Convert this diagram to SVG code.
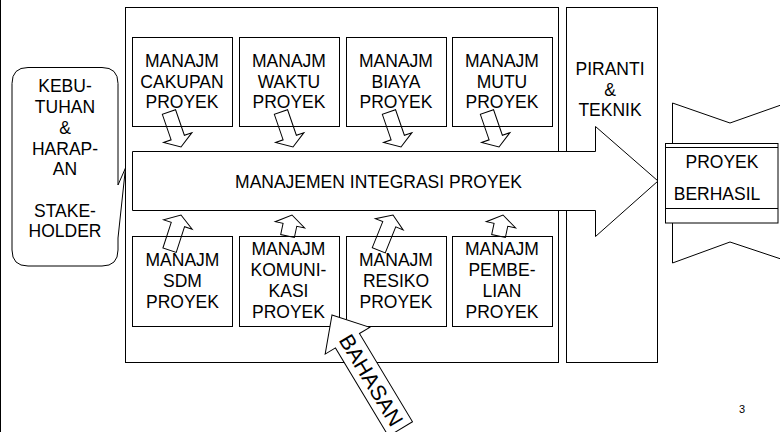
<svg xmlns="http://www.w3.org/2000/svg" width="780" height="432" viewBox="0 0 780 432">
<style>
.ln{fill:none;stroke:#000;stroke-width:1}
.bx{fill:#fff;stroke:#000;stroke-width:1}
.t{font-family:"Liberation Sans",Arial,sans-serif;font-size:17.5px;fill:#000;text-anchor:middle}
.ar{fill:none;stroke:#000;stroke-width:1;stroke-linejoin:miter}
.arw{fill:#fff;stroke:#000;stroke-width:1}
</style>
<rect width="780" height="432" fill="#fff"/>
<line class="ln" x1="0.5" y1="0" x2="0.5" y2="432"/>

<g id="frame-main"><rect class="bx" x="125.5" y="7.5" width="433" height="355"/></g>
<g id="piranti">
<rect class="bx" x="566.5" y="7.5" width="91" height="355"/>
<text class="t" x="610" y="75">PIRANTI</text>
<text class="t" x="610" y="96">&amp;</text>
<text class="t" x="610" y="116">TEKNIK</text>
</g>

<g id="kebutuhan">
<path class="bx" d="M28,67.5 H102 Q118,67.5 118,83.5 V185 L125.5,168 L118,238 V250 Q118,266 102,266 H28 Q12,266 12,250 V83.5 Q12,67.5 28,67.5 Z"/>
<text class="t" x="65" y="92">KEBU-</text>
<text class="t" x="65" y="113">TUHAN</text>
<text class="t" x="65" y="134">&amp;</text>
<text class="t" x="65" y="155">HARAP-</text>
<text class="t" x="65" y="175">AN</text>
<text class="t" x="65" y="217">STAKE-</text>
<text class="t" x="65" y="237">HOLDER</text>
</g>

<g id="cakupan"><rect class="bx" x="132.5" y="37.5" width="100" height="89"/>
<text class="t" x="182" y="67">MANAJM</text><text class="t" x="182" y="87.5">CAKUPAN</text><text class="t" x="182" y="108">PROYEK</text></g>
<g id="waktu"><rect class="bx" x="239.5" y="37.5" width="100" height="89"/>
<text class="t" x="289" y="67">MANAJM</text><text class="t" x="289" y="87.5">WAKTU</text><text class="t" x="289" y="108">PROYEK</text></g>
<g id="biaya"><rect class="bx" x="346.5" y="37.5" width="100" height="89"/>
<text class="t" x="396" y="67">MANAJM</text><text class="t" x="396" y="87.5">BIAYA</text><text class="t" x="396" y="108">PROYEK</text></g>
<g id="mutu"><rect class="bx" x="452.5" y="37.5" width="100" height="89"/>
<text class="t" x="502" y="67">MANAJM</text><text class="t" x="502" y="87.5">MUTU</text><text class="t" x="502" y="108">PROYEK</text></g>

<g id="sdm"><rect class="bx" x="132.5" y="236.5" width="100" height="90"/>
<text class="t" x="182.5" y="266">MANAJM</text><text class="t" x="182.5" y="287">SDM</text><text class="t" x="182.5" y="308">PROYEK</text></g>
<g id="komunikasi"><rect class="bx" x="239.5" y="236.5" width="100" height="90"/>
<text class="t" x="288.5" y="255">MANAJM</text><text class="t" x="288.5" y="276">KOMUNI-</text><text class="t" x="288.5" y="297">KASI</text><text class="t" x="288.5" y="318">PROYEK</text></g>
<g id="resiko"><rect class="bx" x="346.5" y="236.5" width="100" height="90"/>
<text class="t" x="396" y="266">MANAJM</text><text class="t" x="396" y="287">RESIKO</text><text class="t" x="396" y="308">PROYEK</text></g>
<g id="pembelian"><rect class="bx" x="452.5" y="236.5" width="100" height="90"/>
<text class="t" x="502" y="255">MANAJM</text><text class="t" x="502" y="276">PEMBE-</text><text class="t" x="502" y="297">LIAN</text><text class="t" x="502" y="318">PROYEK</text></g>

<g id="integrasi">
<polygon class="arw" points="132.5,151.5 595.5,151.5 595.5,126.5 658,181 595.5,236.5 595.5,210.5 132.5,210.5"/>
<text class="t" x="378.5" y="188">MANAJEMEN INTEGRASI PROYEK</text>
</g>

<g id="proyek-berhasil">
<path class="ln" d="M672.5,143 V103 L730,123 L781,105"/>
<path class="ln" d="M672.5,223 V263 L730,242 L781,259"/>
<rect class="bx" x="665.5" y="143.5" width="112.5" height="79.5"/>
<line class="ln" x1="665.5" y1="147.5" x2="778" y2="147.5"/>
<line class="ln" x1="665.5" y1="208.5" x2="778" y2="208.5"/>
<text class="t" x="722" y="168">PROYEK</text>
<text class="t" x="717" y="200">BERHASIL</text>
</g>

<g id="connectors">
<g transform="translate(181,147) rotate(-19)"><polygon class="ar" points="0,0 15,-10 7,-10 7,-37 -7,-37 -7,-10 -15,-10"/></g>
<g transform="translate(293,147) rotate(-19)"><polygon class="ar" points="0,0 15,-10 7,-10 7,-37 -7,-37 -7,-10 -15,-10"/></g>
<g transform="translate(401,147) rotate(-19)"><polygon class="ar" points="0,0 15,-10 7,-10 7,-37 -7,-37 -7,-10 -15,-10"/></g>
<g transform="translate(499,147) rotate(-19)"><polygon class="ar" points="0,0 15,-10 7,-10 7,-37 -7,-37 -7,-10 -15,-10"/></g>

<g transform="translate(181,215) rotate(18)"><polygon class="ar" points="0,0 15,10 7,10 7,37 -7,37 -7,10 -15,10"/></g>
<g transform="translate(292,215) rotate(12)"><polygon class="ar" points="0,0 15,10 7,10 7,21.5 -7,21.5 -7,10 -15,10"/></g>
<g transform="translate(393,215) rotate(22)"><polygon class="ar" points="0,0 15,10 7,10 7,38 -7,38 -7,10 -15,10"/></g>
<g transform="translate(503,215) rotate(12)"><polygon class="ar" points="0,0 15,10 7,10 7,21.5 -7,21.5 -7,10 -15,10"/></g>

<g id="bahasan" transform="translate(332,315) rotate(-31)">
<polygon class="arw" points="0,0 26,30 14,30 14,133 -14,133 -14,30 -26,30"/>
<text transform="translate(0,76) rotate(90)" x="0" y="7.5" style="font-family:'Liberation Sans',Arial,sans-serif;font-size:21.5px;fill:#000;text-anchor:middle">BAHASAN</text>
</g>
</g>

<text x="742" y="413" style="font-family:'Liberation Sans',Arial,sans-serif;font-size:11px;fill:#000;text-anchor:middle">3</text>
</svg>
